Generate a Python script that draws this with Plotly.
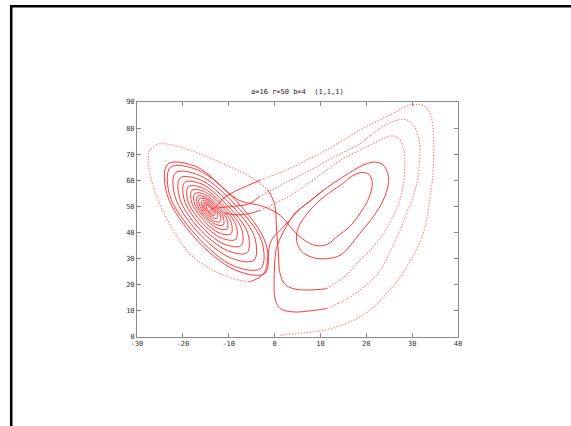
import plotly.graph_objects as go

# ---- data (x, z) ----
loop_a_x = [1.2, 4.0, 7.5, 11.3, 15.0, 18.6, 21.8, 24.4, 26.8, 28.8, 30.8, 32.4, 33.3, 33.8, 34.3, 34.6,
            34.7, 34.5, 33.8, 32.5, 31.0, 29.0, 25.8, 22.0, 18.6, 15.0, 11.3, 7.5, 4.1, 0.5, -3.2]
loop_a_z = [0.7, 1.2, 1.8, 2.8, 4.8, 7.7, 11.8, 16.7, 21.5, 26.8, 33.0, 39.7, 46.0, 52.4, 58.5, 65.0,
            74.0, 81.0, 86.0, 88.6, 89.1, 88.6, 85.6, 82.4, 79.2, 75.5, 71.5, 68.2, 65.1, 62.5, 60.0]

spiral_x = [-3.2, -6.5, -9.5, -11.5, -12.8,
            -13.9, -14.0, -14.2, -14.6, -14.9, -14.9, -14.6, -14.2,
            -13.4, -13.5, -14.0, -14.7, -15.3, -15.2, -14.7, -14.0,
            -13.0, -13.1, -13.8, -14.8, -15.6, -15.5, -14.8, -13.8,
            -12.5, -12.5, -13.5, -15.0, -15.9, -15.9, -14.9, -13.5,
            -11.8, -11.9, -13.2, -15.1, -16.4, -16.4, -15.0, -13.1,
            -11.2, -11.2, -12.9, -15.3, -16.9, -16.8, -15.2, -12.8,
            -10.4, -10.4, -12.5, -15.4, -17.5, -17.4, -15.3, -12.4,
            -9.5, -9.5, -12.1, -15.6, -18.1, -18.0, -15.5, -11.9,
            -8.4, -8.5, -11.6, -15.9, -18.9, -18.8, -15.7, -11.4,
            -7.2, -7.3, -11.0, -16.2, -19.7, -19.6, -15.9, -10.8,
            -5.9, -6.0, -10.3, -16.5, -20.7, -20.6, -16.2, -10.1,
            -4.4, -4.5, -9.6, -16.8, -21.7, -21.6, -16.5, -9.3,
            -2.8, -3.0, -8.9, -17.1, -22.9, -22.7, -16.8, -8.5,
            -1.9, -2.1, -8.4, -17.4, -23.5, -23.3, -17.0, -8.0,
            -2.5, 1.2, 5.1, 8.8, 11.5, 13.5, 16.5, 18.6, 20.5, 21.3, 20.6, 19.0, 16.8, 14.9,
            11.0, 7.7, 5.2, 4.8, 5.8, 8.2, 11.3, 14.5, 18.6, 21.5, 23.7, 24.8, 24.7, 23.6, 21.8,
            19.5, 14.9, 10.5, 7.7, 5.5, 4.1, 1.9, 0.4, 0.0, -0.1, 0.1, 1.2, 4.1, 7.7, 11.3]
spiral_z = [60.0, 57.5, 55.0, 52.6, 49.8,
            48.8, 48.2, 48.2, 48.9, 49.8, 50.4, 50.3, 49.7,
            48.3, 47.4, 47.5, 48.5, 50.0, 50.9, 50.8, 49.8,
            47.9, 46.6, 46.7, 48.2, 50.1, 51.4, 51.3, 49.9,
            47.3, 45.5, 45.7, 47.7, 50.4, 52.1, 52.0, 50.0,
            46.6, 44.2, 44.4, 47.1, 50.6, 53.0, 52.8, 50.2,
            45.9, 42.9, 43.2, 46.5, 50.9, 53.9, 53.6, 50.3,
            45.0, 41.3, 41.7, 45.8, 51.3, 55.0, 54.6, 50.5,
            44.0, 39.5, 39.9, 44.9, 51.7, 56.2, 55.8, 50.8,
            42.8, 37.4, 37.9, 43.9, 52.1, 57.6, 57.1, 51.0,
            41.5, 35.0, 35.6, 42.8, 52.6, 59.2, 58.6, 51.3,
            40.1, 32.3, 33.1, 41.6, 53.2, 60.9, 60.2, 51.7,
            38.5, 29.4, 30.3, 40.3, 53.8, 62.9, 62.0, 52.0,
            36.7, 26.3, 27.2, 38.9, 54.5, 65.0, 64.0, 52.4,
            35.7, 24.4, 25.5, 38.0, 54.9, 66.2, 65.2, 52.6,
            50.0, 46.6, 39.0, 35.1, 35.5, 38.3, 42.5, 47.3, 53.0, 59.0, 62.2, 63.0, 61.5, 58.8,
            54.0, 48.5, 42.0, 37.0, 33.0, 30.5, 30.0, 31.5, 39.7, 46.0, 52.4, 58.5, 62.5, 66.0, 67.0,
            66.0, 61.3, 56.0, 52.0, 49.0, 46.6, 40.2, 33.9, 27.5, 21.0, 14.7, 10.9, 9.6, 10.0, 10.9]

loop_b_x = [11.3, 15.0, 18.6, 22.2, 24.2, 25.8, 27.4, 28.6, 30.0, 31.0, 31.5, 31.7, 31.4, 30.5,
            29.1, 27.5, 24.5, 21.5, 18.6, 13.0, 7.7, 2.3, -3.2]
loop_b_z = [10.9, 13.8, 17.9, 23.6, 29.0, 35.1, 41.0, 46.6, 52.5, 58.8, 65.0, 71.5, 76.5, 80.5,
            83.0, 83.3, 81.5, 78.0, 74.0, 69.0, 63.8, 59.0, 54.0]

entry_b_x = [-3.2, -5.4, -8.0, -10.5, -12.2]
entry_b_z = [54.0, 51.1, 50.2, 49.8, 49.5]

turn_x = [10.5, 7.7, 5.0, 3.3, 1.2, -0.7, -1.5, -1.8, -2.8, -5.4]
turn_z = [56.0, 52.0, 48.3, 44.7, 40.9, 37.0, 30.6, 26.5, 23.4, 21.2]

outer_left_x = [-5.4, -7.6, -13.4, -18.5, -22.1, -25.7, -27.5, -27.2, -25.5, -24.3, -21.5, -18.5,
                -11.2, -5.0, -1.5]
outer_left_z = [21.2, 21.7, 25.5, 31.9, 40.9, 53.6, 66.4, 71.5, 73.8, 74.0, 73.2, 71.5,
                66.4, 61.0, 56.5]

c_side_x = [-1.5, 0.0, 0.4, 0.8, 1.2, 2.2, 4.1, 7.5, 11.3]
c_side_z = [56.5, 51.0, 42.1, 33.0, 24.3, 20.3, 18.5, 18.0, 18.5]

loop_c_x = [11.3, 15.5, 18.6, 21.5, 23.7, 25.8, 27.3, 28.2, 28.4, 28.0, 27.0, 25.5, 23.5, 22.2,
            18.5, 14.9, 11.3, 7.5, 4.1, 0.5, -3.2]
loop_c_z = [18.5, 23.5, 29.4, 34.5, 39.6, 46.0, 52.4, 60.0, 67.7, 73.0, 76.3, 77.0, 75.8, 74.7,
            71.5, 68.3, 63.8, 59.0, 54.9, 51.5, 48.5]

entry_c_x = [-3.2, -5.4, -8.5, -11.0]
entry_c_z = [48.5, 47.3, 46.8, 47.5]

x_ticks = [-30, -20, -10, 0, 10, 20, 30, 40]
y_ticks = [0, 10, 20, 30, 40, 50, 60, 70, 80, 90]
title_text = "a=16 r=50 b=4  (1,1,1)"

# ---- styles ----
slow = dict(color="rgb(255,35,35)", width=0.9)
fast = dict(color="rgba(255,40,40,0.55)", width=1.2, dash="1.5px,1.5px")

pieces = [
    (loop_a_x, loop_a_z, fast),
    (spiral_x, spiral_z, slow),
    (loop_b_x, loop_b_z, fast),
    (entry_b_x, entry_b_z, slow),
    (turn_x, turn_z, slow),
    (outer_left_x, outer_left_z, fast),
    (c_side_x, c_side_z, slow),
    (loop_c_x, loop_c_z, fast),
    (entry_c_x, entry_c_z, slow),
]

fig = go.Figure()
for xs, zs, st in pieces:
    fig.add_trace(go.Scatter(x=xs, y=zs, mode="lines",
                             line=dict(shape="spline", smoothing=1.0, **st),
                             hoverinfo="skip", showlegend=False))

tickfont = dict(family="DejaVu Sans Mono", size=7, color="#333")
axis_common = dict(showgrid=False, zeroline=False, showline=True, linecolor="#8a8a8a",
                   linewidth=1, mirror="ticks", ticks="inside", ticklen=4, tickwidth=1,
                   tickcolor="#8a8a8a", tickfont=tickfont)
fig.update_xaxes(range=[-30, 40], tickvals=x_ticks, ticktext=[str(v) for v in x_ticks], **axis_common)
fig.update_yaxes(range=[0, 90], tickvals=y_ticks, ticktext=[str(v) for v in y_ticks], **axis_common)

W, H = 571, 426
ml, mr, mt, mb = 137, 113, 102, 89
pw, ph = W - ml - mr, H - mt - mb

def px2paper_x(px):
    return (px - ml) / pw

def py2paper_y(py):
    return (H - mb - py) / ph

fig.update_layout(
    width=W, height=H,
    margin=dict(l=ml, r=mr, t=mt, b=mb, pad=0),
    paper_bgcolor="white", plot_bgcolor="white",
    annotations=[dict(text=title_text, xref="paper", yref="paper", x=0.5,
                      y=py2paper_y(92), xanchor="center", yanchor="middle",
                      showarrow=False, font=dict(family="DejaVu Sans Mono", size=7, color="#222"))],
    shapes=[
        dict(type="line", xref="paper", yref="paper", x0=px2paper_x(10), x1=px2paper_x(572),
             y0=py2paper_y(6.2), y1=py2paper_y(6.2), line=dict(color="black", width=2.5)),
        dict(type="line", xref="paper", yref="paper", x0=px2paper_x(11.2), x1=px2paper_x(11.2),
             y0=py2paper_y(5), y1=py2paper_y(427), line=dict(color="black", width=2.5)),
    ],
)

fig.write_html("out.html", config={"displayModeBar": False},
               post_script="document.body.style.margin='0px';")
